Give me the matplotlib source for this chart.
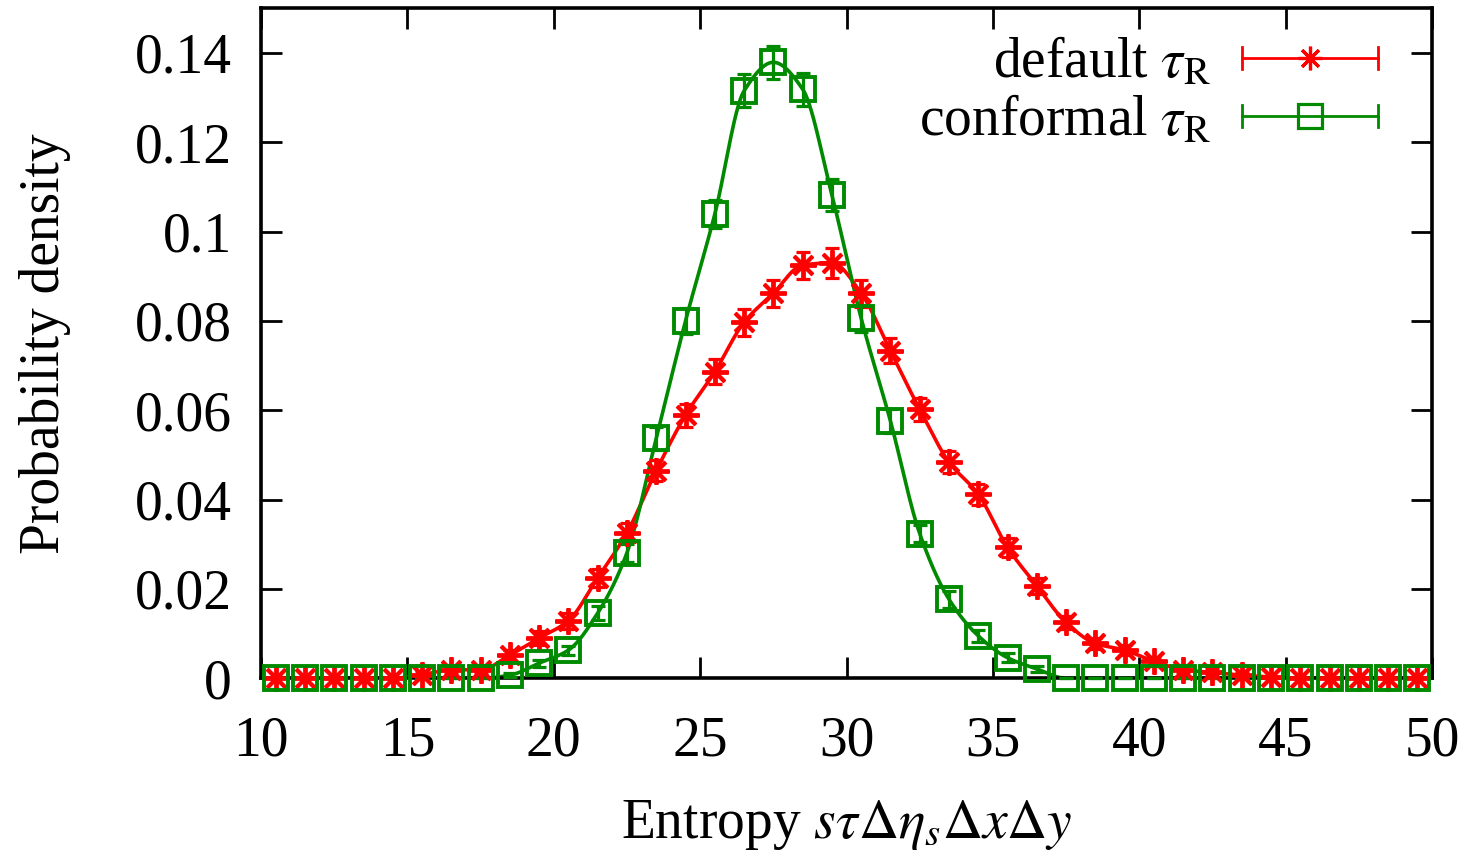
import numpy as np
import matplotlib
matplotlib.use("Agg")
import matplotlib.pyplot as plt
from matplotlib.lines import Line2D
from matplotlib.legend_handler import HandlerBase

# ---------------- data ----------------
entropy = np.arange(10.5, 50.0, 1.0)  # bin centres 10.5 ... 49.5

default_density = [
    0.0, 0.0, 0.0, 0.0, 0.0, 0.0008, 0.0019, 0.0019, 0.0052, 0.0090,
    0.0129, 0.0225, 0.0326, 0.0465, 0.0589, 0.0686, 0.0797, 0.0862, 0.0925, 0.0930,
    0.0862, 0.0733, 0.0602, 0.0484, 0.0412, 0.0293, 0.0207, 0.0125, 0.0078, 0.0063,
    0.0038, 0.0019, 0.0013, 0.0007, 0.0003, 0.0, 0.0, 0.0, 0.0, 0.0]
default_err = [
    0.0, 0.0, 0.0, 0.0, 0.0, 0.0005, 0.0008, 0.0008, 0.0012, 0.0015,
    0.0018, 0.0020, 0.0022, 0.0024, 0.0026, 0.0028, 0.0030, 0.0030, 0.0030, 0.0033,
    0.0030, 0.0028, 0.0025, 0.0024, 0.0023, 0.0022, 0.0018, 0.0015, 0.0012, 0.0011,
    0.0008, 0.0006, 0.0005, 0.0004, 0.0002, 0.0, 0.0, 0.0, 0.0, 0.0]

conformal_density = [
    0.0, 0.0, 0.0, 0.0, 0.0, 0.0, 0.0, 0.0, 0.0007, 0.0034,
    0.0063, 0.0146, 0.0281, 0.0537, 0.0800, 0.1039, 0.1315, 0.1379, 0.1319, 0.1082,
    0.0806, 0.0576, 0.0324, 0.0177, 0.0095, 0.0046, 0.0021, 0.0, 0.0, 0.0,
    0.0, 0.0, 0.0, 0.0, 0.0, 0.0, 0.0, 0.0, 0.0, 0.0]
conformal_err = [
    0.0, 0.0, 0.0, 0.0, 0.0, 0.0, 0.0, 0.0, 0.0004, 0.0008,
    0.0010, 0.0015, 0.0020, 0.0025, 0.0030, 0.0031, 0.0037, 0.0037, 0.0037, 0.0035,
    0.0030, 0.0026, 0.0020, 0.0019, 0.0013, 0.0010, 0.0007, 0.0, 0.0, 0.0,
    0.0, 0.0, 0.0, 0.0, 0.0, 0.0, 0.0, 0.0, 0.0, 0.0]

labels = ["default $\\tau_\\mathrm{R}$", "conformal $\\tau_\\mathrm{R}$"]
xticks = [10, 15, 20, 25, 30, 35, 40, 45, 50]
yticks = [0, 0.02, 0.04, 0.06, 0.08, 0.1, 0.12, 0.14]
yticklabels = ["0", "0.02", "0.04", "0.06", "0.08", "0.1", "0.12", "0.14"]

RED = "#ff0000"
GREEN = "#008a00"


def pchip(x, y, xn):
    """Monotone cubic (PCHIP) curve through the data points."""
    x = np.asarray(x, float)
    y = np.asarray(y, float)
    h = np.diff(x)
    d = np.diff(y) / h
    m = np.zeros_like(y)
    for k in range(1, len(x) - 1):
        if d[k - 1] * d[k] > 0:
            w1 = 2 * h[k] + h[k - 1]
            w2 = h[k] + 2 * h[k - 1]
            m[k] = (w1 + w2) / (w1 / d[k - 1] + w2 / d[k])
    m[0] = d[0]
    m[-1] = d[-1]
    idx = np.clip(np.searchsorted(x, xn) - 1, 0, len(x) - 2)
    t = (xn - x[idx]) / h[idx]
    h00 = 2 * t**3 - 3 * t**2 + 1
    h10 = t**3 - 2 * t**2 + t
    h01 = -2 * t**3 + 3 * t**2
    h11 = t**3 - t**2
    return h00 * y[idx] + h10 * h[idx] * m[idx] + h01 * y[idx + 1] + h11 * h[idx] * m[idx + 1]


class GPKey:
    def __init__(self, color, marker):
        self.color = color
        self.marker = marker


class GPHandler(HandlerBase):
    def create_artists(self, legend, orig, xdescent, ydescent, width, height,
                       fontsize, trans):
        y = (height - ydescent) / 2.0
        x0, x1 = -xdescent, width - xdescent
        cap = 0.28 * height
        lw = 2.0
        arts = [
            Line2D([x0, x1], [y, y], color=orig.color, lw=lw),
            Line2D([x0, x0], [y - cap, y + cap], color=orig.color, lw=lw),
            Line2D([x1, x1], [y - cap, y + cap], color=orig.color, lw=lw),
            Line2D([(x0 + x1) / 2], [y], ls="none", marker=orig.marker, ms=17,
                   mec=orig.color, mfc="none", mew=2.3),
        ]
        for a in arts:
            a.set_transform(trans)
        return arts


plt.rcParams["font.family"] = ["Liberation Serif", "DejaVu Serif"]
plt.rcParams["mathtext.fontset"] = "stix"

fig = plt.figure(figsize=(14.74, 8.52), dpi=100)
ax = fig.add_axes([0.1771, 0.2039, 0.9715 - 0.1771, 0.9903 - 0.2039])

xs = np.linspace(entropy[0], entropy[-1], 1500)
star = (8, 2, 0)
series = [
    (default_density, default_err, RED, star, 19),
    (conformal_density, conformal_err, GREEN, "s", 17),
]
for dens, err, col, mk, ms in series:
    ax.plot(xs, pchip(entropy, dens, xs), color=col, lw=2.6, zorder=2)
    eb = ax.errorbar(entropy, dens, yerr=err, fmt="none", ecolor=col,
                     elinewidth=2.3, capsize=5, capthick=2.3, zorder=3)
    for c in eb.get_children():
        c.set_clip_on(False)
    ax.plot(entropy, dens, ls="none", marker=mk, ms=ms, mec=col, mfc="none",
            mew=2.8, zorder=4, clip_on=False)

ax.set_xlim(10, 50)
ax.set_ylim(0, 0.15)
ax.set_xticks(xticks)
ax.set_xticklabels([str(t) for t in xticks])
ax.set_yticks(yticks)
ax.set_yticklabels(yticklabels)

for s in ax.spines.values():
    s.set_linewidth(2.6)
    s.set_zorder(2.5)
ax.tick_params(direction="in", length=15, width=2.0, top=True, right=True,
               labelsize=40)
ax.tick_params(axis="x", pad=27)
ax.tick_params(axis="y", pad=21)

ax.set_xlabel("Entropy $s\\tau\\Delta\\eta_s\\Delta x\\Delta y$", fontsize=40,
              labelpad=22)
ax.set_ylabel("Probability density", fontsize=40)
ax.yaxis.set_label_coords(-0.162, 0.5)

keys = [GPKey(RED, star), GPKey(GREEN, "s")]
leg = ax.legend(keys, labels, handler_map={GPKey: GPHandler()},
                loc="upper right", bbox_to_anchor=(0.954, 0.957),
                frameon=False, markerfirst=False, fontsize=40,
                handlelength=2.45, handletextpad=0.55, labelspacing=0.09,
                borderpad=0.0, borderaxespad=0.0)

fig.savefig("out.png", dpi=100)
